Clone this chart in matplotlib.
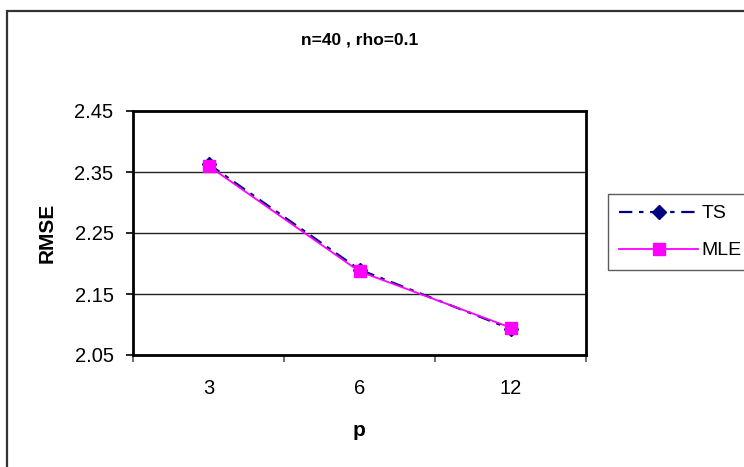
import matplotlib
matplotlib.use("Agg")
import matplotlib.pyplot as plt
from matplotlib.patches import Rectangle

plt.rcParams['font.family'] = ['Liberation Sans', 'DejaVu Sans']

categories = ["3", "6", "12"]
ts_values = [2.363, 2.190, 2.093]
mle_values = [2.360, 2.187, 2.095]
y_ticks = [2.05, 2.15, 2.25, 2.35, 2.45]
title = "n=40 , rho=0.1"

fig = plt.figure(figsize=(7.44, 4.67), dpi=100)
fig.patch.set_facecolor("white")

# outer chart frame
fig.patches.append(Rectangle((7/744, -0.2), 1.2, 0.2 + (1 - 11/467),
                             transform=fig.transFigure, fill=False,
                             edgecolor="#333333", linewidth=1.6))

ax = fig.add_axes([133/744, 1 - 355/467, (586 - 133)/744, (355 - 111)/467])
x = list(range(len(categories)))

ax.plot(x, ts_values, color="#000080", linestyle=(0, (6, 3, 2, 3)), linewidth=1.6,
        marker="D", markersize=7, markerfacecolor="#000080", markeredgecolor="#000080",
        label="TS", zorder=3)
ax.plot(x, mle_values, color="#FF00FF", linestyle="-", linewidth=1.3,
        marker="s", markersize=9, markerfacecolor="#FF00FF", markeredgecolor="#FF00FF",
        label="MLE", zorder=4)

ax.set_xlim(-0.5, len(categories) - 0.5)
ax.set_ylim(y_ticks[0], y_ticks[-1])
ax.set_yticks(y_ticks)
ax.set_yticklabels([f"{v:.2f}" for v in y_ticks])
ax.set_xticks(x)
ax.set_xticklabels(categories)
ax.set_xticks([i - 0.5 for i in range(len(categories) + 1)], minor=True)

ax.tick_params(axis="x", which="major", length=0, pad=17, labelsize=14.5)
ax.tick_params(axis="x", which="minor", length=5, width=1.2, direction="out", color="#555555")
ax.tick_params(axis="y", which="major", length=5, width=1.2, direction="out", pad=9, labelsize=14.5)

for v in y_ticks[1:-1]:
    ax.axhline(v, color="#222222", linewidth=1.0, zorder=1)

for s in ax.spines.values():
    s.set_color("black")
    s.set_linewidth(2)

ax.set_ylabel("RMSE", fontsize=15, fontweight="bold")
ax.yaxis.set_label_coords((47 - 133) / 453, 0.5)
ax.set_xlabel("p", fontsize=15, fontweight="bold")
ax.xaxis.set_label_coords(0.5, (355 - 430) / 244)
ax.xaxis.label.set_va("center")
ax.yaxis.label.set_va("center")

fig.text(360/744, 1 - 40/467, title, ha="center", va="center",
         fontsize=12.5, fontweight="bold")

leg = fig.legend(loc="upper left", bbox_to_anchor=(608/744, 1 - 194/467),
                 fontsize=14, frameon=True, fancybox=False, handlelength=4.1,
                 handletextpad=0.15, labelspacing=1.0, borderpad=0.55,
                 borderaxespad=0, markerscale=1.0)
leg.get_frame().set_edgecolor("#333333")
leg.get_frame().set_linewidth(1.0)

fig.savefig("out.png", dpi=100, facecolor="white")
